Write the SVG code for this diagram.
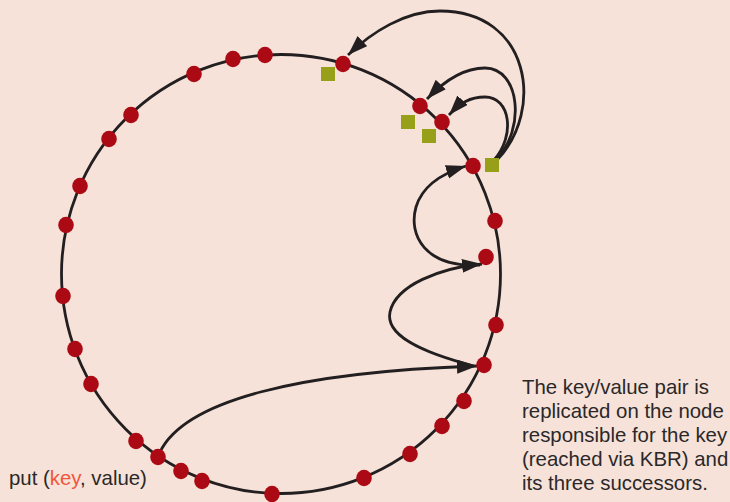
<svg xmlns="http://www.w3.org/2000/svg" width="730" height="502" viewBox="0 0 730 502">
  <defs>
    <marker id="arrow" markerUnits="userSpaceOnUse" markerWidth="21" markerHeight="15" refX="20" refY="7" orient="auto">
      <path d="M0,0 L20,7 L0,14 z" fill="#231f20"/>
    </marker>
    <style>
      .ring { fill: none; stroke: #231f20; stroke-width: 2.8; }
      .link { fill: none; stroke: #231f20; stroke-width: 2.8; marker-end: url(#arrow); }
      .node { fill: #ab0a15; }
      .replica { fill: #98a01a; }
      .label { font-family: "Liberation Sans", Arial, sans-serif; font-size: 20.4px; fill: #2b2829; }
      .key { fill: #f0563c; }
    </style>
  </defs>

  <rect width="730" height="502" fill="#f6e2d8"/>

  <!-- identifier ring -->
  <circle class="ring" cx="281" cy="274" r="219.5"/>

  <!-- routing and replication paths -->
  <g id="connectors">
    <path class="link" d="M160,452 C185,400 300,372 477,366"/>
    <path class="link" d="M474,366 C420,352 385,335 390,312 C396,285 440,268 482,264"/>
    <path class="link" d="M480,265 C425,268 408,235 416,207 C422,187 440,174 466,166"/>
    <path class="link" d="M497,160 C545,110 530,11 440,11 C405,11 372,32 348,55"/>
    <path class="link" d="M496,159 C526,130 520,68 485,68 C465,68 445,80 427,99"/>
    <path class="link" d="M494,160 C516,135 510,97 485,97 C470,97 460,103 449,115"/>
  </g>

  <!-- replica markers -->
  <g id="replicas">
    <rect class="replica" x="321" y="67" width="14" height="14"/>
    <rect class="replica" x="401" y="115" width="14" height="14"/>
    <rect class="replica" x="422" y="129" width="14" height="14"/>
    <rect class="replica" x="485" y="158" width="14" height="14"/>
  </g>

  <!-- ring nodes -->
  <g id="nodes">
    <ellipse id="n1" class="node" cx="265" cy="55" rx="7.8" ry="8.3"/>
    <ellipse id="n2" class="node" cx="233" cy="59" rx="7.8" ry="8.3"/>
    <ellipse id="n3" class="node" cx="194" cy="74" rx="7.8" ry="8.3"/>
    <ellipse id="n4" class="node" cx="131" cy="115" rx="7.8" ry="8.3"/>
    <ellipse id="n5" class="node" cx="109" cy="139" rx="7.8" ry="8.3"/>
    <ellipse id="n6" class="node" cx="80" cy="186" rx="7.8" ry="8.3"/>
    <ellipse id="n7" class="node" cx="66" cy="225" rx="7.8" ry="8.3"/>
    <ellipse id="n8" class="node" cx="63" cy="296" rx="7.8" ry="8.3"/>
    <ellipse id="n9" class="node" cx="75" cy="349" rx="7.8" ry="8.3"/>
    <ellipse id="n10" class="node" cx="91" cy="384" rx="7.8" ry="8.3"/>
    <ellipse id="n11" class="node" cx="136" cy="441" rx="7.8" ry="8.3"/>
    <ellipse id="n12" class="node" cx="158" cy="457" rx="7.8" ry="8.3"/>
    <ellipse id="n13" class="node" cx="181" cy="471" rx="7.8" ry="8.3"/>
    <ellipse id="n14" class="node" cx="202" cy="481" rx="7.8" ry="8.3"/>
    <ellipse id="n15" class="node" cx="272" cy="494" rx="7.8" ry="8.3"/>
    <ellipse id="n16" class="node" cx="364" cy="478" rx="7.8" ry="8.3"/>
    <ellipse id="n17" class="node" cx="410" cy="454" rx="7.8" ry="8.3"/>
    <ellipse id="n18" class="node" cx="442" cy="426" rx="7.8" ry="8.3"/>
    <ellipse id="n19" class="node" cx="464" cy="401" rx="7.8" ry="8.3"/>
    <ellipse id="n20" class="node" cx="484" cy="365" rx="7.8" ry="8.3"/>
    <ellipse id="n21" class="node" cx="496" cy="325" rx="7.8" ry="8.3"/>
    <ellipse id="n22" class="node" cx="486" cy="257" rx="7.8" ry="8.3"/>
    <ellipse id="n23" class="node" cx="495" cy="221" rx="7.8" ry="8.3"/>
    <ellipse id="n24" class="node" cx="473" cy="166" rx="7.8" ry="8.3"/>
    <ellipse id="n25" class="node" cx="442" cy="122" rx="7.8" ry="8.3"/>
    <ellipse id="n26" class="node" cx="420" cy="106" rx="7.8" ry="8.3"/>
    <ellipse id="n27" class="node" cx="343" cy="64" rx="7.8" ry="8.3"/>
  </g>

  <!-- labels -->
  <g id="put-label">
    <text class="label" x="9" y="485">put (<tspan class="key">key</tspan>, value)</text>
  </g>
  <g id="note">
    <text class="label" x="522" y="394">The key/value pair is</text>
    <text class="label" x="522" y="418">replicated on the node</text>
    <text class="label" x="522" y="442">responsible for the key</text>
    <text class="label" x="522" y="466">(reached via KBR) and</text>
    <text class="label" x="522" y="490">its three successors.</text>
  </g>
</svg>
